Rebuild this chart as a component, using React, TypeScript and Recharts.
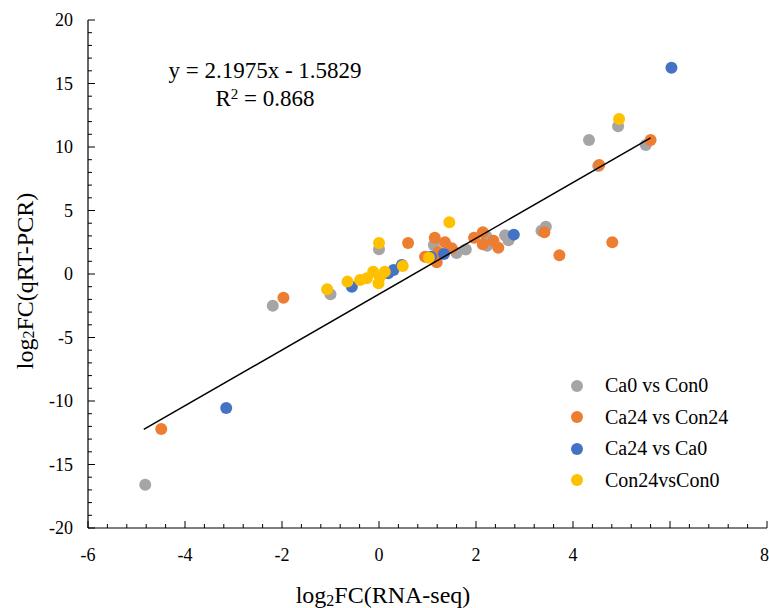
import { ScatterChart, Scatter, XAxis, YAxis, Label } from "recharts";

const FONT = "'Liberation Serif', 'Times New Roman', serif";

// 系列ごとの点 (x: log2FC RNA-seq, y: log2FC qRT-PCR)
const CA0_VS_CON0 = [
  { x: -4.82, y: -16.6 }, { x: -2.19, y: -2.5 }, { x: -1.0, y: -1.6 },
  { x: 0.0, y: 1.95 }, { x: 1.13, y: 2.28 }, { x: 1.6, y: 1.65 },
  { x: 1.79, y: 1.93 }, { x: 2.21, y: 3.0 }, { x: 2.23, y: 2.23 },
  { x: 2.6, y: 3.05 }, { x: 2.67, y: 2.65 }, { x: 3.35, y: 3.4 },
  { x: 3.44, y: 3.72 }, { x: 4.33, y: 10.55 }, { x: 4.93, y: 11.63 },
  { x: 5.5, y: 10.16 }, { x: 4.52, y: 8.5 },
];
const CA24_VS_CON24 = [
  { x: -4.49, y: -12.2 }, { x: -1.97, y: -1.87 }, { x: 0.6, y: 2.45 },
  { x: 1.15, y: 2.86 }, { x: 1.36, y: 2.5 }, { x: 0.95, y: 1.36 },
  { x: 1.19, y: 0.92 }, { x: 1.22, y: 1.71 }, { x: 1.5, y: 2.02 },
  { x: 1.96, y: 2.86 }, { x: 2.14, y: 3.28 }, { x: 2.14, y: 2.34 },
  { x: 2.36, y: 2.62 }, { x: 2.46, y: 2.07 }, { x: 3.41, y: 3.28 },
  { x: 3.72, y: 1.47 }, { x: 4.81, y: 2.5 }, { x: 4.54, y: 8.58 },
  { x: 5.6, y: 10.55 },
];
const CA24_VS_CA0 = [
  { x: -3.15, y: -10.55 }, { x: -0.56, y: -1.0 }, { x: 0.19, y: 0.05 },
  { x: 0.3, y: 0.31 }, { x: 0.47, y: 0.71 }, { x: 1.07, y: 1.36 },
  { x: 1.34, y: 1.57 }, { x: 2.78, y: 3.1 }, { x: 6.03, y: 16.24 },
];
const CON24_VS_CON0 = [
  { x: -1.07, y: -1.21 }, { x: -0.65, y: -0.6 }, { x: -0.39, y: -0.47 },
  { x: -0.25, y: -0.34 }, { x: -0.12, y: 0.18 }, { x: -0.01, y: -0.73 },
  { x: 0.02, y: -0.21 }, { x: 0.12, y: 0.18 }, { x: 0.49, y: 0.63 },
  { x: 0.0, y: 2.45 }, { x: 1.03, y: 1.28 }, { x: 1.45, y: 4.07 },
  { x: 4.95, y: 12.2 },
];

// 近似直線 y = 2.1975x - 1.5829 (データの x 範囲の端点)
const TREND = [
  { x: -4.85, y: -12.24 },
  { x: 5.6, y: 10.72 },
];

const SERIES = [
  { name: "Ca0 vs Con0", color: "#A5A5A5", data: CA0_VS_CON0 },
  { name: "Ca24 vs Con24", color: "#ED7D31", data: CA24_VS_CON24 },
  { name: "Ca24 vs Ca0", color: "#4472C4", data: CA24_VS_CA0 },
  { name: "Con24vsCon0", color: "#FFC000", data: CON24_VS_CON0 },
];

// 目盛: x は 0.4 刻み (ラベルは 2 刻み、6 は表示なし)、y は 1 刻み (ラベル 5 刻み)
const X_TICKS = Array.from({ length: 36 }, (_, i) => Math.round((-6 + i * 0.4) * 10) / 10);
const X_LABELS = [-6, -4, -2, 0, 2, 4, 8];
const Y_TICKS = Array.from({ length: 41 }, (_, i) => -20 + i);
const Y_LABELS = [-20, -15, -10, -5, 0, 5, 10, 15, 20];

const XTick = ({ x, y, payload }: any) => {
  const v = payload.value;
  const major = Math.abs(v - Math.round(v)) < 1e-6 && Math.round(v) % 2 === 0;
  const last = v === 8;
  return (
    <g>
      <line x1={x} x2={x} y1={y} y2={y - (major ? 7 : 4)} stroke="#000" strokeWidth={1} />
      {X_LABELS.includes(v) && (
        <text
          x={last ? x + 2 : x}
          y={y + 33}
          textAnchor={last ? "end" : "middle"}
          fontSize={18}
          fontFamily={FONT}
          fill="#000"
        >
          {v}
        </text>
      )}
    </g>
  );
};

const YTick = ({ x, y, payload }: any) => {
  const v = payload.value;
  const major = v % 5 === 0;
  return (
    <g>
      <line x1={x} x2={x + (major ? 7 : 4)} y1={y} y2={y} stroke="#000" strokeWidth={1} />
      {Y_LABELS.includes(v) && (
        <text x={x - 15} y={y + 6} textAnchor="end" fontSize={18} fontFamily={FONT} fill="#000">
          {v}
        </text>
      )}
    </g>
  );
};

const Dot = (color: string) => (p: any) => (
  <circle cx={p.cx} cy={p.cy} r={6} fill={color} />
);

export default function App() {
  return (
    <div style={{ position: "absolute", left: 0, top: 0, width: 769, height: 608, background: "#fff" }}>
      <ScatterChart width={769} height={608} margin={{ top: 20, right: 2, bottom: 20, left: 28 }}>
        <XAxis
          type="number"
          dataKey="x"
          domain={[-6, 8]}
          ticks={X_TICKS}
          interval={0}
          tick={<XTick />}
          tickLine={false}
          tickSize={0}
          tickMargin={0}
          axisLine={{ stroke: "#000", strokeWidth: 1.2 }}
          height={60}
          allowDataOverflow
        >
          <Label
            content={() => (
              <text x={383} y={603} textAnchor="middle" fontSize={24} fontFamily={FONT} fill="#000">
                log<tspan fontSize={16} dy={3}>2</tspan>
                <tspan dy={-3}>FC(RNA-seq)</tspan>
              </text>
            )}
          />
        </XAxis>
        <YAxis
          type="number"
          dataKey="y"
          domain={[-20, 20]}
          ticks={Y_TICKS}
          interval={0}
          tick={<YTick />}
          tickLine={false}
          tickSize={0}
          tickMargin={0}
          axisLine={{ stroke: "#000", strokeWidth: 1.2 }}
          width={60}
          allowDataOverflow
        >
          <Label
            content={() => (
              <text
                x={27}
                y={281}
                textAnchor="middle"
                fontSize={24}
                fontFamily={FONT}
                fill="#000"
                transform="rotate(-90 27 281)"
                dominantBaseline="middle"
              >
                log<tspan fontSize={16} dy={3}>2</tspan>
                <tspan dy={-3}>FC(qRT-PCR)</tspan>
              </text>
            )}
          />
        </YAxis>
        {SERIES.map((s) => (
          <Scatter
            key={s.name}
            name={s.name}
            data={s.data}
            fill={s.color}
            shape={Dot(s.color)}
            isAnimationActive={false}
          />
        ))}
        <Scatter
          name="trend"
          data={TREND}
          line={{ stroke: "#000", strokeWidth: 1.5 }}
          shape={() => <g />}
          legendType="none"
          isAnimationActive={false}
        />
      </ScatterChart>

      {/* 凡例 */}
      <div
        style={{
          position: "absolute", left: 571, top: 370, fontFamily: FONT, fontSize: 20, color: "#000",
        }}
      >
        {SERIES.map((s) => (
          <div key={s.name} style={{ display: "flex", alignItems: "center", height: 31.5 }}>
            <span
              style={{
                display: "inline-block", width: 12, height: 12, borderRadius: 6,
                background: s.color, marginRight: 22,
              }}
            />
            {s.name}
          </div>
        ))}
      </div>

      {/* 近似式 */}
      <div
        style={{
          position: "absolute", left: 160, top: 57, width: 210, textAlign: "center",
          fontFamily: FONT, fontSize: 23, lineHeight: "28px", color: "#000",
        }}
      >
        <div>y = 2.1975x - 1.5829</div>
        <div>
          R<sup style={{ fontSize: 15, verticalAlign: "7px", lineHeight: 0 }}>2</sup> = 0.868
        </div>
      </div>
    </div>
  );
}
